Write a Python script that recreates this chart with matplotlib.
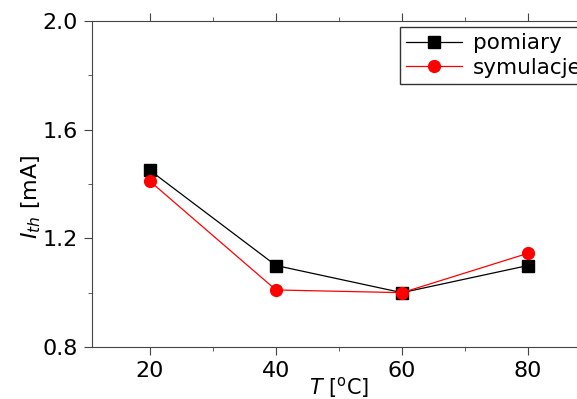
import numpy as np
import matplotlib.pyplot as plt
from matplotlib.ticker import MultipleLocator

# data
temp = [20, 40, 60, 80]
pomiary = [1.45, 1.10, 1.00, 1.10]
symulacje = [1.41, 1.01, 1.00, 1.145]

plt.rcParams['font.family'] = 'DejaVu Sans'
plt.rcParams['mathtext.fontset'] = 'dejavusans'

fig = plt.figure(figsize=(5.77, 3.99), dpi=100)
ax = fig.add_axes([92 / 577, 52 / 399, 494 / 577, 326 / 399])

ax.plot(temp, pomiary, color='black', lw=0.9, marker='s', ms=8, label='pomiary')
ax.plot(temp, symulacje, color='red', lw=0.9, marker='o', ms=8.5, label='symulacje')

ax.set_xlim(10.8, 89.2)
ax.set_ylim(0.8, 2.0)
ax.set_xticks([20, 40, 60, 80])
ax.set_yticks([0.8, 1.2, 1.6, 2.0])
ax.xaxis.set_minor_locator(MultipleLocator(10))
ax.yaxis.set_minor_locator(MultipleLocator(0.2))
ax.tick_params(which='both', direction='out', labelsize=16, top=True, color='#444444')
ax.tick_params(which='major', length=6, pad=4)
ax.tick_params(which='minor', length=3)
for s in ax.spines.values():
    s.set_color('#444444')
ax.spines['right'].set_visible(False)

ax.set_xlabel(r'$T$ [$^{\rm o}$C]', fontsize=15, labelpad=-4)
ax.set_ylabel(r'$I_{th}$ [mA]', fontsize=16)
ax.yaxis.set_label_coords(-0.1, 0.46)

# legend runs past the right edge, as in the original figure
leg = fig.legend(loc='upper left', bbox_to_anchor=(400 / 577, 1 - 27 / 399),
                 fontsize=15.5, frameon=True, fancybox=False, edgecolor='black',
                 borderaxespad=0, handlelength=2.6, borderpad=0.3,
                 labelspacing=0.2, handletextpad=0.5)
leg.get_frame().set_linewidth(1.0)

fig.savefig('out.png', dpi=100)
